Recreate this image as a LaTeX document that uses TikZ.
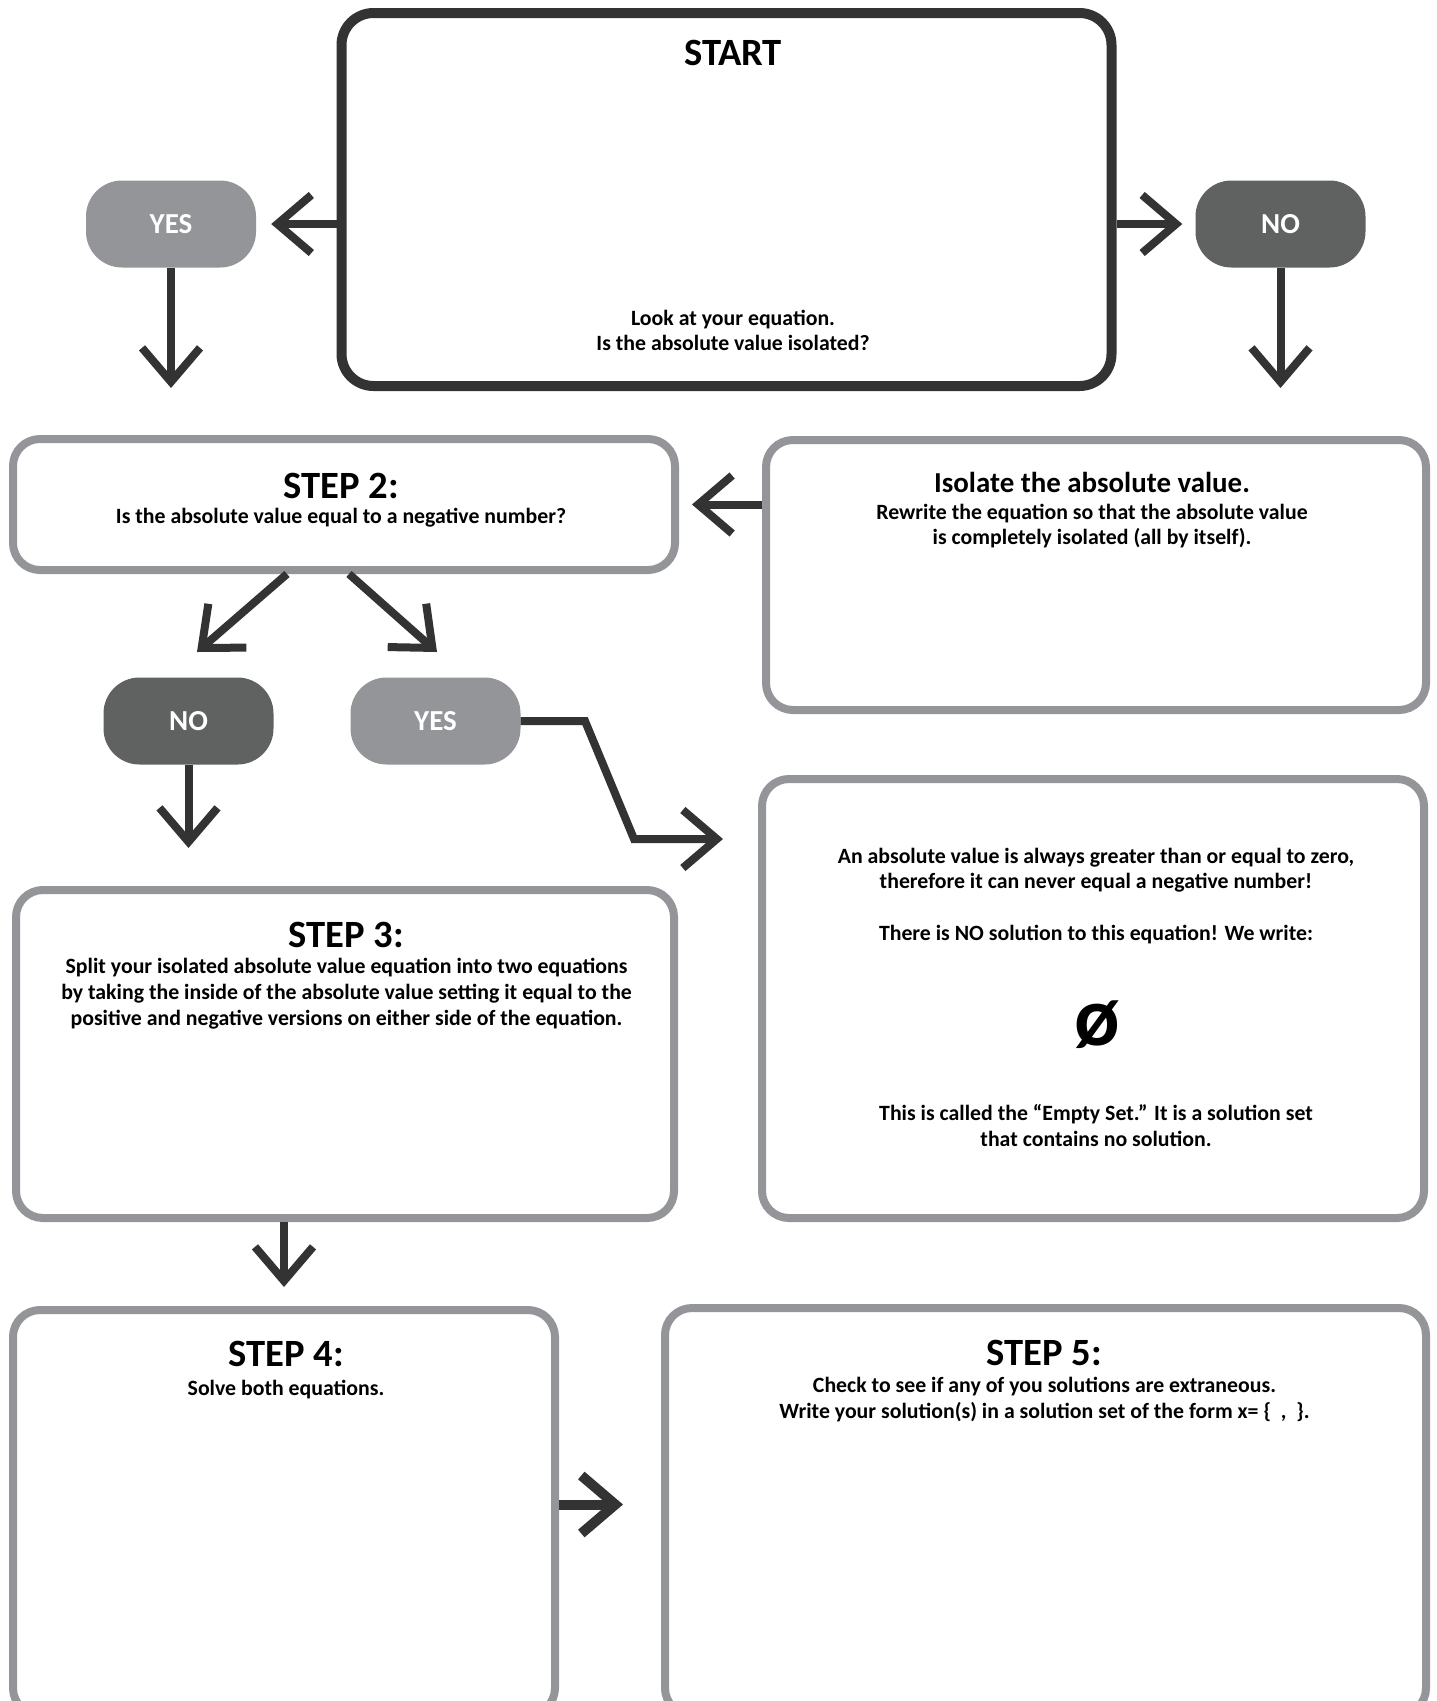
\documentclass[tikz,border=0pt]{standalone}
\usepackage{fontspec}
\setmainfont{Carlito}
\usetikzlibrary{arrows.meta,calc}
\definecolor{dk}{HTML}{333333}
\definecolor{gr}{HTML}{939598}
\definecolor{pd}{HTML}{606161}
\begin{document}
\begin{tikzpicture}[x=1pt,y=-1pt,
 box/.style={draw=gr,line width=8pt,rounded corners=27pt,inner sep=0pt,fill=white},
 startbox/.style={draw=dk,line width=10pt,rounded corners=32pt,inner sep=0pt},
 pill/.style={rounded corners=36pt,minimum width=170pt,minimum height=87pt,inner sep=0pt,text=white,font=\bfseries\fontsize{29}{32}\selectfont},
 arr/.style={draw=dk,line width=8pt,-{Straight Barb[length=34pt,width=58pt,sharp]},line join=miter},
 ttl/.style={anchor=base,font=\bfseries\fontsize{38.6}{42}\selectfont,inner sep=0pt},
 sub/.style={anchor=base,font=\bfseries\fontsize{28.9}{31}\selectfont,inner sep=0pt},
 txt/.style={anchor=base,font=\bfseries\fontsize{21.8}{25}\selectfont,inner sep=0pt},
]
\useasboundingbox (0,0) rectangle (1436,1701);
\fill[white] (0,0) rectangle (1436,1701);
\clip (0,0) rectangle (1436,1701);

% START
\node[startbox,minimum width=770pt,minimum height=373pt] (start) at (726.5,199.5) {};
\node[ttl] (startT) at (733,65) {START};
\node[txt] (startA) at (733,325) {Look at your equation.};
\node[txt] (startB) at (733,350) {Is the absolute value isolated?};

% pills
\node[pill,fill=gr] (yes1) at (171,224) {YES};
\node[pill,fill=pd] (no1) at (1280.5,224) {NO};
\node[pill,fill=pd] (no2) at (188.5,721) {NO};
\node[pill,fill=gr] (yes2) at (435.5,721) {YES};

% STEP 2
\node[box,minimum width=662pt,minimum height=131pt] (s2) at (344,504.5) {};
\node[ttl] (s2T) at (341,498) {STEP 2:};
\node[txt] (s2A) at (341,523) {Is the absolute value equal to a negative number?};

% Isolate
\node[box,minimum width=660pt,minimum height=270pt] (iso) at (1096,575) {};
\node[sub] (isoT) at (1092,492.7) {Isolate the absolute value.};
\node[txt] (isoA) at (1092,519) {Rewrite the equation so that the absolute value};
\node[txt] (isoB) at (1092,544) {is completely isolated (all by itself).};

% Empty set box
\node[box,minimum width=662pt,minimum height=439pt] (emp) at (1093,998.5) {};
\node[txt] (empA) at (1096,863) {An absolute value is always greater than or equal to zero,};
\node[txt] (empB) at (1096,888) {therefore it can never equal a negative number!};
\node[txt] (empC) at (1096,940.7) {There is NO solution to this equation! We write:};
\node[anchor=base,inner sep=0pt,font=\bfseries\fontsize{84}{86}\selectfont] (empS) at (1097,1045) {ø};
\node[txt] (empD) at (1096,1120.7) {This is called the “Empty Set.” It is a solution set};
\node[txt] (empE) at (1096,1146.7) {that contains no solution.};

% STEP 3
\node[box,minimum width=658pt,minimum height=328pt] (s3) at (345,1054) {};
\node[ttl] (s3T) at (346.5,947) {STEP 3:};
\node[txt] (s3A) at (346.5,973) {Split your isolated absolute value equation into two equations};
\node[txt] (s3B) at (346.5,999) {by taking the inside of the absolute value setting it equal to the};
\node[txt] (s3C) at (346.5,1025) {positive and negative versions on either side of the equation.};

% STEP 4
\node[box,minimum width=542pt,minimum height=405pt] (s4) at (284,1512.5) {};
\node[ttl] (s4T) at (286,1366.7) {STEP 4:};
\node[txt] (s4A) at (286,1395) {Solve both equations.};

% STEP 5
\node[box,minimum width=761pt,minimum height=407pt] (s5) at (1045.5,1511.5) {};
\node[ttl] (s5T) at (1044.5,1365) {STEP 5:};
\node[txt] (s5A) at (1044.5,1392) {Check to see if any of you solutions are extraneous.};
\node[txt] (s5B) at (1044.5,1418) {Write your solution(s) in a solution set of the form x= \{ \ , \ \}.};

% connectors
\draw[arr,shorten >=15pt] (start.west |- yes1.east) -- (yes1.east);
\draw[arr,shorten >=13pt] (start.east |- no1.west) -- (no1.west);
\draw[arr,shorten >=47pt] (yes1.south) -- (yes1.south |- s2.north);
\draw[arr,shorten >=48pt] (no1.south) -- (no1.south |- iso.north);
\draw[arr,shorten >=13pt] (iso.west |- s2.east) -- (s2.east);
\coordinate (d1) at (197,652);
\coordinate (d2) at (437,652);
\draw[arr] ([xshift=-57pt]s2.south) -- (d1);
\draw[arr] ([xshift=5pt]s2.south) -- (d2);
\draw[arr,shorten >=38pt] (no2.south) -- (no2.south |- s3.north);
\coordinate (b1) at (585,721);
\coordinate (b2) at (634,839);
\draw[arr,shorten >=35pt] (yes2.east) -- (b1) -- (b2) -- (emp.west |- b2);
\draw[arr,shorten >=19pt] (s4.north |- s3.south) -- (s4.north);
\draw[arr,line width=10pt,shorten >=38pt] ([yshift=8pt]s4.east) -- ([yshift=8pt]s4.east -| s5.west);
\end{tikzpicture}
\end{document}
